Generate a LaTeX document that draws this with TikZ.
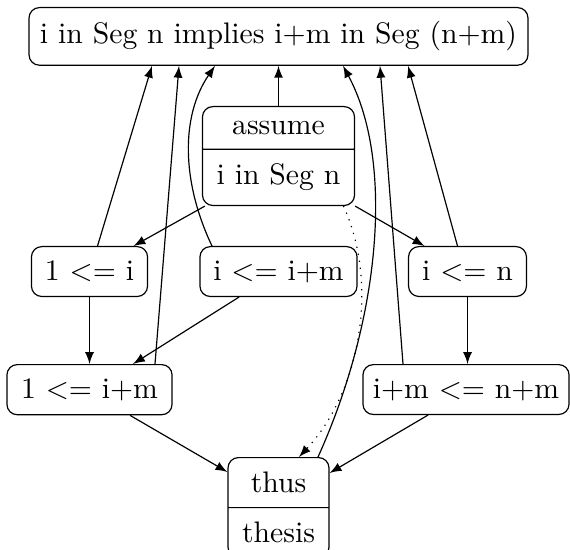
\documentclass[tikz,border=0pt]{standalone}
\usepackage{fontspec}
\usetikzlibrary{positioning,shapes,arrows,calc}

\begin{document}
\begin{tikzpicture}[
  x=0.3367pt, y=-0.3367pt,
  inner xsep=3pt, inner ysep=4.7pt,
  stmt/.style={draw,rounded corners=3.5pt,minimum height=16.8pt},
  block/.style={draw,rounded corners=3.5pt,rectangle split,rectangle split parts=2},
  dep/.style={-latex}
]
\useasboundingbox (0,0) rectangle (570,550);
\node[stmt,anchor=north,minimum width=168pt,minimum height=19.2pt] (goal) at (278.5,7) {i in Seg n implies i+m in Seg (n+m)};
\node[block,anchor=north,minimum width=51.2pt] (assume) at (278.5,106) {assume \nodepart{two} i in Seg n};
\node[stmt,anchor=north,minimum width=39.1pt] (ione) at (89.5,246) {1 <= i};
\node[stmt,anchor=north,minimum width=52.9pt] (iim) at (278.5,246) {i <= i+m};
\node[stmt,anchor=north,minimum width=39.7pt] (in) at (467.5,246) {i <= n};
\node[stmt,anchor=north,minimum width=55.6pt] (oneim) at (89.5,364) {1 <= i+m};
\node[stmt,anchor=north,minimum width=69.4pt] (imnm) at (466,364) {i+m <= n+m};
\node[block,anchor=north,minimum width=34pt] (thus) at (278.5,457) {thus \nodepart{two} thesis};
% from the assumption
\draw[dep] (assume.north) -- (assume.north |- goal.south);
\draw[dep] ($(assume.south west)+(3,0)$) -- ($(ione.north)+(44,0)$);
\draw[dep] (assume.south east) -- ($(in.north)+(-43,0)$);
\draw[dep,dotted] ($(assume.south)+(65,0)$) .. controls ($(assume.south)+(101,79)$) and ($(thus.north)+(81.5,-65)$) .. ($(thus.north)+(20.5,0)$);
% inner steps
\draw[dep] (ione.south) -- (ione.south |- oneim.north);
\draw[dep] ($(iim.south)+(-39.5,0)$) -- ($(oneim.north)+(43.5,0)$);
\draw[dep] (in.south) -- (in.south |- imnm.north);
\draw[dep] ($(oneim.south)+(40.5,0)$) -- ($(thus.north west)+(0,15)$);
\draw[dep] ($(imnm.south)+(-38,0)$) -- ($(thus.north east)+(0,16)$);
% up to the goal
\draw[dep] ($(ione.north)+(8,0)$) -- ($(goal.south)+(-126.5,0)$);
\draw[dep] ($(oneim.north)+(65.5,0)$) -- ($(goal.south)+(-99.5,0)$);
\draw[dep] ($(iim.north)+(-66.5,0)$) .. controls ($(iim.north)+(-96.5,-63)$) and ($(goal.south)+(-98.5,51)$) .. ($(goal.south)+(-63.5,0)$);
\draw[dep] ($(thus.north)+(39.5,0)$) .. controls ($(thus.north)+(101.5,-137)$) and ($(goal.south)+(116.5,96)$) .. ($(goal.south)+(64.5,0)$);
\draw[dep] ($(imnm.north)+(-63,0)$) -- ($(goal.south)+(101.5,0)$);
\draw[dep] ($(in.north)+(-10,0)$) -- ($(goal.south)+(129.5,0)$);
\end{tikzpicture}
\end{document}
